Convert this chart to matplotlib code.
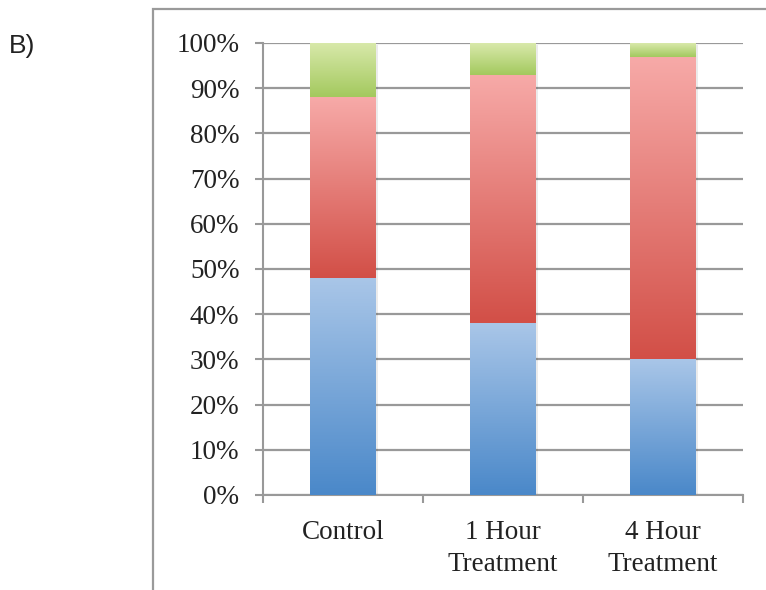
import matplotlib
matplotlib.use("Agg")
import matplotlib.pyplot as plt
import numpy as np
from matplotlib.patches import Rectangle
from matplotlib.colors import LinearSegmentedColormap

categories = ["Control", "1 Hour\nTreatment", "4 Hour\nTreatment"]
blue_vals = [48, 38, 30]
red_vals = [40, 55, 67]
green_vals = [12, 7, 3]
ytick_vals = [0, 10, 20, 30, 40, 50, 60, 70, 80, 90, 100]
ytick_labels = [f"{v}%" for v in ytick_vals]

fig = plt.figure(figsize=(7.66, 5.90), dpi=100)
W, H = 766, 590
ax = fig.add_axes([263 / W, 1 - 495 / H, (743 - 263) / W, (495 - 43) / H])

# outer frame
fig.patches.append(Rectangle((153 / W, -0.1), 1.0, 1 - 9 / H + 0.1, transform=fig.transFigure,
                             fill=False, edgecolor="#9a9a9a", linewidth=1.6))
fig.text(9 / W, 1 - 46 / H, "B)", fontsize=19, family="Liberation Sans", va="center", ha="left",
         color="#222222")

x = np.arange(len(categories))
width = 0.41

grads = {
    "blue": ("#4a88c9", "#a9c6e8"),
    "red": ("#d24f47", "#f7aaa8"),
    "green": ("#a3c95e", "#d9e9ab"),
}

FS = 19.5
bottoms = np.zeros(len(categories))
for vals, key in [(blue_vals, "blue"), (red_vals, "red"), (green_vals, "green")]:
    # shadow
    ax.bar(x + 0.012, vals, width, bottom=bottoms - 0.4, color="#000000", alpha=0.08,
           zorder=2, linewidth=0)
    bars = ax.bar(x, vals, width, bottom=bottoms, color="none", linewidth=0, zorder=3)
    cmap = LinearSegmentedColormap.from_list(key, list(grads[key]))
    for b in bars:
        x0, y0, w, h = b.get_x(), b.get_y(), b.get_width(), b.get_height()
        grad = np.linspace(0, 1, 256).reshape(-1, 1)
        im = ax.imshow(grad, extent=[x0, x0 + w, y0, y0 + h], origin="lower", cmap=cmap,
                       aspect="auto", zorder=3, interpolation="bicubic")
        im.set_clip_path(b)
    bottoms = bottoms + np.array(vals)

ax.set_xlim(-0.5, len(categories) - 0.5)
ax.set_ylim(0, 100)
ax.set_yticks(ytick_vals)
ax.set_yticklabels(ytick_labels, family="Liberation Serif", fontsize=FS, color="#222222")
ax.set_xticks(x)
ax.set_xticklabels(categories, family="Liberation Serif", fontsize=FS, color="#222222",
                   linespacing=1.35)
ax.tick_params(axis="x", length=0, pad=18)
ax.tick_params(axis="y", length=6, width=1.5, color="#999999", pad=11)
# category separator ticks
ax.set_xticks(np.arange(-0.5, len(categories), 1.0), minor=True)
ax.tick_params(axis="x", which="minor", length=6, width=1.5, color="#999999")

ax.yaxis.grid(True, color="#999999", linewidth=1.6)
ax.set_axisbelow(True)
for s in ["top", "right"]:
    ax.spines[s].set_visible(False)
for s in ["left", "bottom"]:
    ax.spines[s].set_color("#999999")
    ax.spines[s].set_linewidth(1.5)
ax.set_facecolor("white")

fig.savefig("out.png", dpi=100)
